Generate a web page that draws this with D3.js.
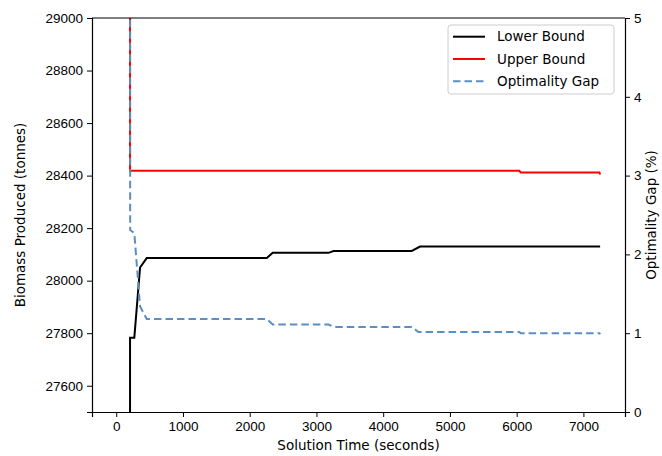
<!DOCTYPE html>
<html>
<head>
<meta charset="utf-8">
<script src="https://cdn.jsdelivr.net/npm/d3@7"></script>
<style>
  body { margin: 0; background: #fff; }
  svg { font-family: "DejaVu Sans", sans-serif; }
  .tick text { font-size: 13.5px; fill: #000; }
  .tick line, .domain { stroke: #000; }
</style>
</head>
<body>
<script>
// ---------- data ----------
const lowerTimes  = [207, 207, 271, 357, 457, 2255, 2345, 3181, 3256, 4428, 4552, 7250];
const lowerValues = [27300, 27783, 27783, 28050, 28086, 28086, 28106, 28106, 28113, 28113, 28130, 28130];

const upperTimes  = [207, 207, 6040, 6060, 7240, 7250];
const upperValues = [29600, 28418, 28418, 28412, 28412, 28404];

const gapTimes  = [207, 209, 271, 357, 457, 2255, 2345, 3181, 3256, 4428, 4528, 6040, 6060, 7240, 7250];
const gapValues = [6, 2.31, 2.27, 1.34, 1.18, 1.18, 1.11, 1.11, 1.08, 1.08, 1.015, 1.015, 1.0, 1.0, 0.986];

const xTicks = [0, 1000, 2000, 3000, 4000, 5000, 6000, 7000];
const yTicks = [27600, 27800, 28000, 28200, 28400, 28600, 28800, 29000];
const gapTicks = [0, 1, 2, 3, 4, 5];

const gapColor = "#5b8ec4";
const gapDash = "7.5,4";

const legendItems = [
  { label: "Lower Bound", color: "#000000", dash: null },
  { label: "Upper Bound", color: "#ff0000", dash: null },
  { label: "Optimality Gap", color: gapColor, dash: gapDash }
];

// ---------- layout ----------
const W = 662, H = 456;
const plot = { left: 92, right: 625, top: 18, bottom: 412 };

const svg = d3.select("body").append("svg").attr("width", W).attr("height", H);

const x = d3.scaleLinear().domain([-363, 7623]).range([plot.left, plot.right]);
const y = d3.scaleLinear().domain([27500, 29000]).range([plot.bottom, plot.top]);
const yGap = d3.scaleLinear().domain([0, 5]).range([plot.bottom, plot.top]);

svg.append("clipPath").attr("id", "clip")
  .append("rect")
  .attr("x", plot.left).attr("y", plot.top)
  .attr("width", plot.right - plot.left).attr("height", plot.bottom - plot.top);

const lines = svg.append("g").attr("clip-path", "url(#clip)");

function drawLine(times, values, scale, color, dash) {
  const line = d3.line().x((d, i) => x(times[i])).y(d => scale(d));
  lines.append("path")
    .datum(values)
    .attr("d", line)
    .attr("fill", "none")
    .attr("stroke", color)
    .attr("stroke-width", 2)
    .attr("stroke-dasharray", dash);
}

drawLine(lowerTimes, lowerValues, y, "#000000", null);
drawLine(upperTimes, upperValues, y, "#ff0000", null);
drawLine(gapTimes, gapValues, yGap, gapColor, gapDash);

// ---------- axes ----------
svg.append("g")
  .attr("transform", `translate(0,${plot.bottom})`)
  .call(d3.axisBottom(x).tickValues(xTicks).tickSize(5).tickPadding(4).tickFormat(d3.format("d")));

svg.append("g")
  .attr("transform", `translate(${plot.left},0)`)
  .call(d3.axisLeft(y).tickValues(yTicks).tickSize(5).tickPadding(4).tickFormat(d3.format("d")));

svg.append("g")
  .attr("transform", `translate(${plot.right},0)`)
  .call(d3.axisRight(yGap).tickValues(gapTicks).tickSize(5).tickPadding(4).tickFormat(d3.format("d")));

svg.selectAll(".domain").attr("stroke-width", 1.2);

// top spine
svg.append("line")
  .attr("x1", plot.left).attr("x2", plot.right)
  .attr("y1", plot.top).attr("y2", plot.top)
  .attr("stroke", "#000").attr("stroke-width", 1.2);

// axis titles
svg.append("text")
  .attr("x", (plot.left + plot.right) / 2).attr("y", 450)
  .attr("text-anchor", "middle").attr("font-size", 13.5)
  .text("Solution Time (seconds)");

svg.append("text")
  .attr("transform", `translate(25,${(plot.top + plot.bottom) / 2}) rotate(-90)`)
  .attr("text-anchor", "middle").attr("font-size", 13.5)
  .text("Biomass Produced (tonnes)");

svg.append("text")
  .attr("transform", `translate(656,${(plot.top + plot.bottom) / 2}) rotate(-90)`)
  .attr("text-anchor", "middle").attr("font-size", 13.5)
  .text("Optimality Gap (%)");

// ---------- legend ----------
const legend = svg.append("g").attr("transform", "translate(448,25)");
legend.append("rect")
  .attr("width", 166).attr("height", 69)
  .attr("rx", 3)
  .attr("fill", "#fff").attr("fill-opacity", 0.8)
  .attr("stroke", "#cccccc");

legendItems.forEach((item, i) => {
  const row = legend.append("g").attr("transform", `translate(0,${11.7 + i * 22.3})`);
  row.append("line")
    .attr("x1", 5).attr("x2", 37)
    .attr("stroke", item.color).attr("stroke-width", 2)
    .attr("stroke-dasharray", item.dash);
  row.append("text")
    .attr("x", 49).attr("dy", "0.35em")
    .attr("font-size", 13.5)
    .text(item.label);
});
</script>
</body>
</html>
